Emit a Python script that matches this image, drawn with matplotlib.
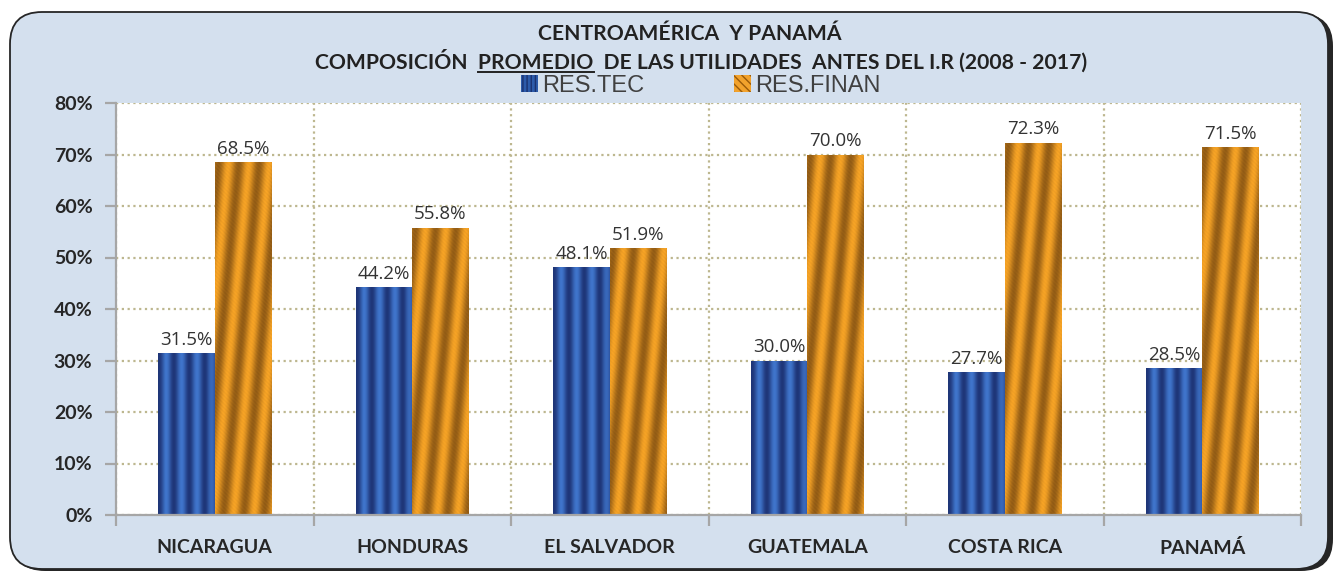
import matplotlib.pyplot as plt
import numpy as np
from matplotlib.patches import FancyBboxPatch, Patch
from matplotlib.lines import Line2D

# datos
paises = ['NICARAGUA', 'HONDURAS', 'EL SALVADOR', 'GUATEMALA', 'COSTA RICA', 'PANAMÁ']
res_tec = [31.5, 44.2, 48.1, 30.0, 27.7, 28.5]
res_finan = [68.5, 55.8, 51.9, 70.0, 72.3, 71.5]
yticks = [0, 10, 20, 30, 40, 50, 60, 70, 80]
series = ['RES.TEC', 'RES.FINAN']

W, H = 1336, 571
fig = plt.figure(figsize=(W / 100, H / 100), dpi=100)
fig.patch.set_facecolor('white')

# marco redondeado con sombra
sombra = FancyBboxPatch((0.13, 0.00), 13.20, 5.57, boxstyle='round,pad=0,rounding_size=0.32',
                        transform=fig.dpi_scale_trans, fc='#262626', ec='none', zorder=0)
marco = FancyBboxPatch((0.10, 0.02), 13.18, 5.57, boxstyle='round,pad=0,rounding_size=0.32',
                       transform=fig.dpi_scale_trans, fc='#D4E0EE', ec='#262626', lw=1.3, zorder=0)
fig.add_artist(sombra)
fig.add_artist(marco)

ax = fig.add_axes([116 / W, 56 / H, 1185 / W, 412 / H])
ax.set_facecolor('white')
x = np.arange(len(paises))
w = 0.285
b1 = ax.bar(x - w / 2, res_tec, w, color='#2A4F9A', zorder=2)
b2 = ax.bar(x + w / 2, res_finan, w, color='#E8961E', zorder=2)
ax.set_xlim(-0.5, len(paises) - 0.5)
ax.set_ylim(0, 80)


# textura de las barras
def textura(bar, tipo):
    bb = bar.get_bbox()
    x0, y0, x1, y1 = bb.x0, bb.y0, bb.x1, bb.y1
    p0 = ax.transData.transform((x0, y0))
    p1 = ax.transData.transform((x1, y1))
    wp = max(int(round(p1[0] - p0[0])), 2)
    hp = max(int(round(p1[1] - p0[1])), 2)
    xs, ys = np.meshgrid(np.arange(wp), np.arange(hp))
    if tipo == 'azul':
        u = xs / wp
        t = 0.5 - 0.5 * np.cos(2 * np.pi * 3.7 * u)
        t = t * (0.6 + 0.4 * np.clip(np.minimum(u, 1 - u) * 8, 0, 1))
        c0 = np.array([0.12, 0.21, 0.47])
        c1 = np.array([0.25, 0.46, 0.80])
    else:
        u = xs + 0.1 * ys
        t = 0.5 + 0.5 * np.sin(2 * np.pi * (u - 8) / 20.0)
        t = t * 0.9 + 0.1 * (0.5 + 0.5 * np.sin(2 * np.pi * (xs - ys) / 4.0))
        c0 = np.array([0.56, 0.35, 0.08])
        c1 = np.array([0.98, 0.65, 0.15])
    arr = c0 + (c1 - c0) * t[..., None]
    im = ax.imshow(arr, extent=(x0, x1, y0, y1), origin='upper', aspect='auto',
                   interpolation='bilinear', zorder=3)
    im.set_clip_path(bar)


for b in b1:
    textura(b, 'azul')
for b in b2:
    textura(b, 'naranja')
ax.set_xlim(-0.5, len(paises) - 0.5)
ax.set_ylim(0, 80)

# etiquetas de datos
for barras, vals in ((b1, res_tec), (b2, res_finan)):
    for b, v in zip(barras, vals):
        ax.annotate(f'{v:.1f}%', (b.get_x() + b.get_width() / 2, v), xytext=(0, 3),
                    textcoords='offset points', ha='center', va='bottom',
                    fontsize=13.5, family='Open Sans', color='#333333', zorder=5)

# ejes y rejilla
grid_kw = dict(color='#BDB78F', linestyle=(0, (1, 1.6)), linewidth=1.6)
ax.set_yticks(yticks)
ax.set_yticklabels([f'{t}%' for t in yticks])
ax.set_xticks(x)
ax.set_xticklabels(paises)
ax.set_xticks(np.arange(-0.5, len(paises), 1), minor=True)
ax.yaxis.grid(True, **grid_kw)
ax.xaxis.grid(True, which='minor', **grid_kw)
ax.set_axisbelow(True)
for s in ('top', 'right'):
    ax.spines[s].set_visible(False)
for s in ('left', 'bottom'):
    ax.spines[s].set_color('#A6A6A6')
    ax.spines[s].set_linewidth(1.6)
    ax.spines[s].set_zorder(4)
ax.tick_params(axis='y', length=8, width=1.6, color='#A6A6A6', pad=9)
ax.tick_params(axis='x', which='major', length=0, pad=17)
ax.tick_params(axis='x', which='minor', length=8, width=1.6, color='#A6A6A6')
for lab in ax.get_xticklabels() + ax.get_yticklabels():
    lab.set_fontfamily('Lato')
    lab.set_fontweight('bold')
    lab.set_fontsize(14)
    lab.set_color('#262626')

# leyenda
handles = [Patch(facecolor='#2D5BAA', edgecolor='#1A3270', hatch='||||', lw=0),
           Patch(facecolor='#F2A22C', edgecolor='#9A5A08', hatch='\\\\\\\\', lw=0)]
leg = fig.legend(handles, series, ncol=2, loc='center', bbox_to_anchor=(701 / W, 1 - 86 / H),
                 frameon=False, prop={'family': 'Liberation Sans', 'size': 17},
                 handlelength=0.7, handleheight=0.7, handletextpad=0.2, columnspacing=3.8,
                 labelcolor='#404040')

# titulo
fig.text(690 / W, 1 - 40 / H, 'CENTROAMÉRICA  Y PANAMÁ', ha='center', va='baseline',
         fontsize=15.2, fontweight='bold', family='Lato', color='#222222')
linea2 = 'COMPOSICIÓN  PROMEDIO  DE LAS UTILIDADES  ANTES DEL I.R (2008 - 2017)'
kw = dict(fontsize=15.2, fontweight='bold', family='Lato', color='#222222', va='baseline')
r = fig.canvas.get_renderer()
tmp = fig.text(0, 0, linea2, **kw)
ancho = tmp.get_window_extent(r).width
tmp_a = fig.text(0, 0, 'COMPOSICIÓN  PROMEDIO', **kw)
tmp_b = fig.text(0, 0, 'PROMEDIO', **kw)
wa = tmp_a.get_window_extent(r).width
wb = tmp_b.get_window_extent(r).width
for t in (tmp, tmp_a, tmp_b):
    t.remove()
x_izq = 701.5 - ancho / 2
fig.text(x_izq / W, 1 - 69 / H, linea2, ha='left', **kw)
fig.add_artist(Line2D([(x_izq + wa - wb) / W, (x_izq + wa) / W], [1 - 72 / H, 1 - 72 / H],
                      transform=fig.transFigure, color='#222222', lw=1.4))

fig.savefig('out.png', dpi=100, facecolor=fig.get_facecolor())
